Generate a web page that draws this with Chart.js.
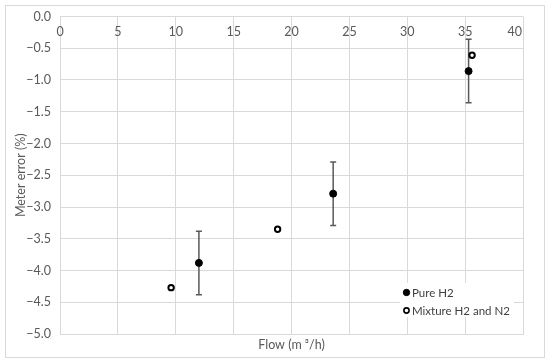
<html>
  <body style="margin:0;background:#fff">
    <script src="https://cdn.jsdelivr.net/npm/chart.js@4.4.0/dist/chart.umd.min.js"></script>
    <div style="width:550px;height:364px"><canvas id="myChart" width="550" height="364"></canvas></div>

    <script>
      // data
      let seriesNames = ['Pure H2', 'Mixture H2 and N2'];
      let pureFlow = [12.0, 23.6, 35.3];
      let pureError = [-3.88, -2.79, -0.86];
      let pureUnc = [0.5, 0.5, 0.5];
      let mixFlow = [9.6, 18.8, 35.6];
      let mixError = [-4.27, -3.35, -0.61];
      let xTicks = [0, 5, 10, 15, 20, 25, 30, 35, 40];

      const FONT = 'Lato, "Open Sans", sans-serif';
      const TXT = '#595959';
      const GRID = '#d9d9d9';

      function toPoints(xs, ys) {
        return xs.map((x, i) => ({ x: x, y: ys[i] }));
      }

      // outer frame
      const framePlugin = {
        id: 'frame',
        beforeDraw(chart) {
          let c = chart.ctx;
          c.save();
          c.fillStyle = '#fff';
          c.fillRect(0, 0, chart.width, chart.height);
          c.strokeStyle = GRID;
          c.lineWidth = 1;
          c.strokeRect(5.5, 5.5, 539, 352);
          c.restore();
        }
      };

      // error bars for pure H2
      const errorBarPlugin = {
        id: 'errorBars',
        beforeDatasetsDraw(chart) {
          let c = chart.ctx;
          let xs = chart.scales.x, ys = chart.scales.y;
          c.save();
          c.strokeStyle = '#595959';
          c.lineWidth = 1.5;
          for (let i = 0; i < pureFlow.length; i++) {
            let px = xs.getPixelForValue(pureFlow[i]);
            let top = ys.getPixelForValue(pureError[i] + pureUnc[i]);
            let bot = ys.getPixelForValue(pureError[i] - pureUnc[i]);
            c.beginPath();
            c.moveTo(px, top); c.lineTo(px, bot);
            c.moveTo(px - 3, top); c.lineTo(px + 3, top);
            c.moveTo(px - 3, bot); c.lineTo(px + 3, bot);
            c.stroke();
          }
          c.restore();
        }
      };

      // x tick labels sit inside the plot, under the top line (axis crosses at 0)
      const xLabelPlugin = {
        id: 'xLabels',
        afterDraw(chart) {
          let c = chart.ctx;
          let xs = chart.scales.x;
          let area = chart.chartArea;
          c.save();
          c.font = '12.5px ' + FONT;
          c.fillStyle = TXT;
          c.textBaseline = 'middle';
          xTicks.forEach((t, i) => {
            c.textAlign = i === xTicks.length - 1 ? 'right' : 'center';
            let px = xs.getPixelForValue(t);
            if (i === xTicks.length - 1) px -= 1;
            c.fillText(String(t), px, area.top + 15);
          });
          c.restore();
        }
      };

      // legend box inside the plot, bottom right
      const legendPlugin = {
        id: 'myLegend',
        afterDatasetsDraw(chart) {
          let c = chart.ctx;
          c.save();
          c.fillStyle = '#fff';
          c.fillRect(400, 283, 114, 34);
          c.font = '11.5px ' + FONT;
          c.textBaseline = 'middle';
          c.textAlign = 'left';
          let rows = [292.5, 310.5];
          chart.data.datasets.forEach((ds, i) => {
            c.beginPath();
            c.arc(406.5, rows[i], i === 0 ? 3.2 : 2.6, 0, Math.PI * 2);
            c.fillStyle = ds.backgroundColor;
            c.fill();
            c.lineWidth = i === 0 ? 1 : 1.6;
            c.strokeStyle = '#000';
            c.stroke();
            c.fillStyle = '#404040';
            c.fillText(ds.label, 412, rows[i] + 0.5);
          });
          c.restore();
        }
      };

      let ctx = document.getElementById('myChart').getContext('2d');
      let myChart = new Chart(ctx, {
        type: 'scatter',
        data: {
          datasets: [
            {
              label: seriesNames[0],
              data: toPoints(pureFlow, pureError),
              backgroundColor: '#000',
              borderColor: '#000',
              borderWidth: 1,
              pointRadius: 3.5
            },
            {
              label: seriesNames[1],
              data: toPoints(mixFlow, mixError),
              backgroundColor: '#fff',
              borderColor: '#000',
              borderWidth: 2,
              pointRadius: 2.7
            }
          ]
        },
        options: {
          responsive: false,
          animation: false,
          layout: { padding: { left: 0, top: 16, right: 27, bottom: 0 } },
          plugins: {
            legend: { display: false },
            tooltip: { enabled: false }
          },
          scales: {
            x: {
              type: 'linear',
              position: 'bottom',
              min: 0,
              max: 40,
              ticks: { display: false, stepSize: 5 },
              grid: { color: GRID, drawTicks: false },
              border: { color: GRID },
              title: {
                display: true,
                text: 'Flow (m \u00b3/h)',
                color: TXT,
                font: { family: FONT, size: 12.5 },
                padding: { top: 0, bottom: 12 }
              },
              afterFit(scale) { scale.height = 30; }
            },
            y: {
              min: -5,
              max: 0,
              ticks: {
                stepSize: 0.5,
                color: TXT,
                font: { family: FONT, size: 12.5 },
                padding: 9,
                callback: v => v.toFixed(1).replace('-', '\u2212')
              },
              grid: { color: GRID, drawTicks: false },
              border: { color: GRID },
              title: {
                display: true,
                text: 'Meter error (%)',
                color: TXT,
                font: { family: FONT, size: 12.5 },
                padding: { top: 13, bottom: 0 }
              },
              afterFit(scale) { scale.width = 60; }
            }
          }
        },
        plugins: [framePlugin, errorBarPlugin, xLabelPlugin, legendPlugin]
      });
    </script>
  </body>
</html>
